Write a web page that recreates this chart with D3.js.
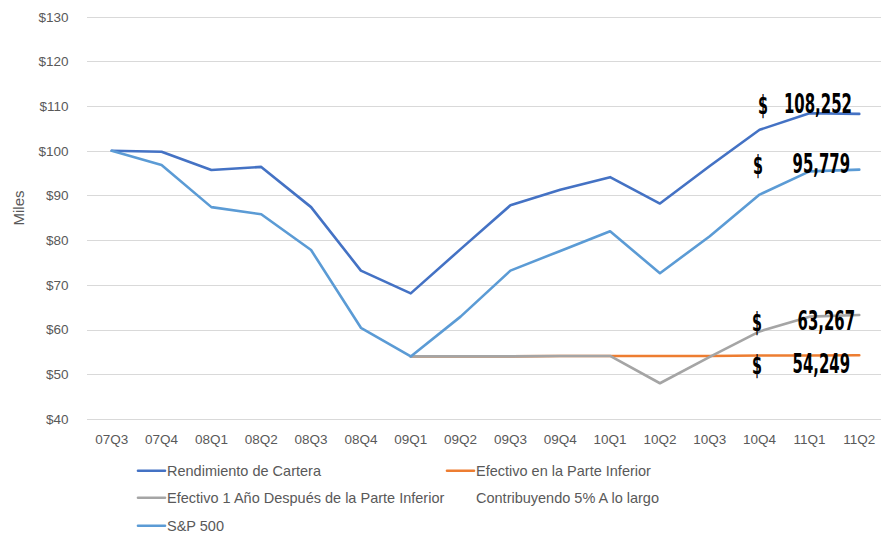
<!DOCTYPE html>
<html><head><meta charset="utf-8">
<script src="https://cdn.jsdelivr.net/npm/d3@7/dist/d3.min.js"></script>
<style>
html,body{margin:0;padding:0;background:#fff;}
svg{display:block;}
</style></head>
<body>
<svg id="chart" width="881" height="533"></svg>
<script>
const quarters = ["07Q3","07Q4","08Q1","08Q2","08Q3","08Q4","09Q1","09Q2","09Q3","09Q4","10Q1","10Q2","10Q3","10Q4","11Q1","11Q2"];
const rendimiento = [100, 99.8, 95.7, 96.4, 87.4, 73.2, 68.1, 78.0, 87.8, 91.3, 94.1, 88.2, 96.6, 104.7, 108.4, 108.252];
const efectivoInferior = [null, null, null, null, null, null, 54.0, 54.0, 54.0, 54.1, 54.1, 54.1, 54.1, 54.2, 54.2, 54.249];
const efectivo1Ano = [null, null, null, null, null, null, 54.0, 54.0, 54.0, 54.1, 54.1, 48.0, 53.9, 59.6, 62.9, 63.267];
const contribuyendo = [];
const sp500 = [100, 96.8, 87.4, 85.8, 77.8, 60.4, 54.0, 62.9, 73.2, 77.6, 82.0, 72.6, 80.9, 90.2, 95.4, 95.779];
const yTicks = [40, 50, 60, 70, 80, 90, 100, 110, 120, 130];
const seriesNames = ["Rendimiento de Cartera", "Efectivo en la Parte Inferior", "Efectivo 1 Año Después de la Parte Inferior", "Contribuyendo 5% A lo largo", "S&P 500"];
const endLabels = ["108,252", "95,779", "63,267", "54,249"];

const series = [
  {name: seriesNames[0], values: rendimiento, color: "#4472C4"},
  {name: seriesNames[1], values: efectivoInferior, color: "#ED7D31"},
  {name: seriesNames[2], values: efectivo1Ano, color: "#A5A5A5"},
  {name: seriesNames[3], values: contribuyendo, color: "none"},
  {name: seriesNames[4], values: sp500, color: "#5B9BD5"}
];

const svg = d3.select("#chart");
const x = d3.scaleBand().domain(quarters).range([86.8, 884.2]);
const y = d3.scaleLinear().domain([40, 130]).range([419, 16.7]);
const cx = q => x(q) + x.bandwidth() / 2;
const FONT = "Liberation Sans, Arial, sans-serif";

// gridlines
svg.append("g").selectAll("line").data(yTicks).join("line")
  .attr("x1", 87).attr("x2", 884)
  .attr("y1", d => Math.round(y(d)) + 0.5).attr("y2", d => Math.round(y(d)) + 0.5)
  .attr("stroke", "#d9d9d9").attr("stroke-width", 1);

// y axis labels
const yAxis = d3.axisLeft(y).tickValues(yTicks).tickFormat(d => "$" + d).tickSize(0).tickPadding(0);
const ya = svg.append("g").attr("transform", "translate(68.5,0)").call(yAxis);
ya.select(".domain").remove();
ya.selectAll("text").attr("font-family", FONT).attr("font-size", 13.5).attr("fill", "#595959");

// x axis labels
const xAxis = d3.axisBottom(x).tickSize(0).tickPadding(0);
const xa = svg.append("g").attr("transform", "translate(0,434)").call(xAxis);
xa.select(".domain").remove();
xa.selectAll("text").attr("font-family", FONT).attr("font-size", 13.5).attr("fill", "#595959").attr("dy", "0.71em");

// y title
svg.append("text").attr("transform", "translate(24,208) rotate(-90)")
  .attr("text-anchor", "middle").attr("font-family", FONT)
  .attr("font-size", 15).attr("fill", "#595959").text("Miles");

// lines
const line = d3.line().defined(d => d.v != null).x(d => cx(d.q)).y(d => y(d.v));
series.forEach(s => {
  if (s.color === "none" || !s.values.length) return;
  svg.append("path")
    .datum(s.values.map((v, i) => ({q: quarters[i], v})))
    .attr("d", line).attr("fill", "none").attr("stroke", s.color)
    .attr("stroke-width", 2.6).attr("stroke-linejoin", "round").attr("stroke-linecap", "round");
});

// end labels (condensed bold, horizontally scaled to the reference widths)
const lastIdx = quarters.length - 1;
const labelSeries = [rendimiento, sp500, efectivo1Ano, efectivoInferior];
const labelDy = [-0.8, 3.4, 14.8, 17.8];
const dollarX = [758, 753, 752, 752];
const numEnd = [852, 850, 855, 850];
const LFONT = "DejaVu Sans Condensed, Liberation Sans, sans-serif";
function squeezed(str, anchorX, baseY, anchor, targetW, size) {
  const g = svg.append("g");
  const t = g.append("text").attr("x", 0).attr("y", 0).attr("text-anchor", anchor)
    .attr("font-family", LFONT).attr("font-weight", "bold").attr("font-size", size)
    .attr("fill", "#000").text(str);
  const w = t.node().getComputedTextLength() || targetW;
  g.attr("transform", `translate(${anchorX},${baseY}) scale(${targetW / w},1)`);
}
labelSeries.forEach((vals, i) => {
  const base = y(vals[lastIdx]) + labelDy[i];
  const txt = endLabels[i];
  const digits = txt.replace(/,/g, "").length;
  const commas = txt.length - digits;
  squeezed("$", dollarX[i], base + 1, "start", 10, 27);
  squeezed(txt, numEnd[i], base, "end", digits * 10.6 + commas * 4.5, 27);
});

// legend
const legendPos = [[138, 470.7], [447, 470.7], [138, 497.7], [447, 497.7], [138, 525.7]];
series.forEach((s, i) => {
  const [lx, ly] = legendPos[i];
  const g = svg.append("g");
  if (s.color !== "none") {
    g.append("line").attr("x1", lx).attr("x2", lx + 27).attr("y1", ly).attr("y2", ly)
      .attr("stroke", s.color).attr("stroke-width", 2.6).attr("stroke-linecap", "round");
  }
  g.append("text").attr("x", lx + 29).attr("y", ly).attr("dy", "0.35em")
    .attr("font-family", FONT).attr("font-size", 14.5)
    .attr("fill", "#595959").text(s.name);
});
</script>
</body></html>
